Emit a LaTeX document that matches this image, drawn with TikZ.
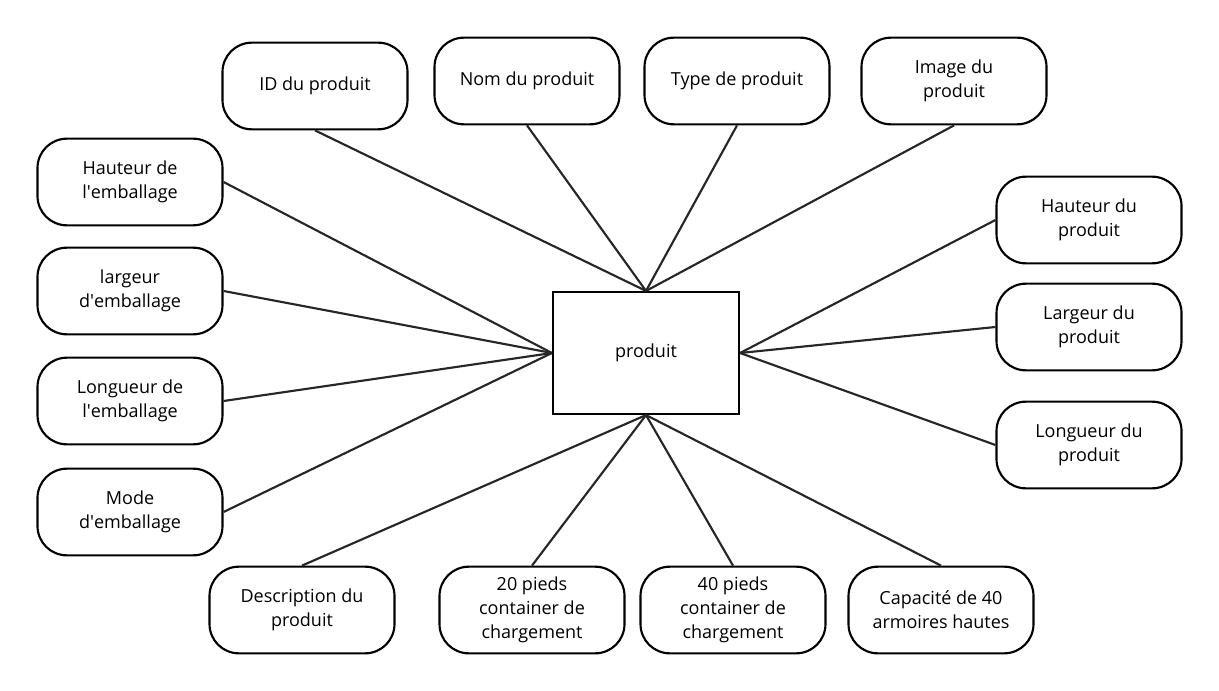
\documentclass[tikz,border=0pt]{standalone}
\usepackage{fontspec}
\setmainfont{Open Sans}
\begin{document}
\begin{tikzpicture}[x=0.75pt,y=0.75pt,yscale=-1,xscale=1,
	attr/.style={draw, line width=1.6pt, rounded corners=22pt, minimum width=138.75pt, minimum height=65pt, align=center, font=\fontsize{13.5}{18}\selectfont, inner sep=2pt},
	ent/.style={draw, line width=1.6pt, minimum width=139.5pt, minimum height=91.5pt, font=\fontsize{13.5}{18}\selectfont},
	link/.style={line width=1.6pt, draw=black!85}]
	\useasboundingbox (0,0) rectangle (1219,691);
	\node [ent] (prod) at (646,353) {produit};
	% top row
	\node [attr] (id) at (315,86) {ID du produit};
	\node [attr] (nom) at (527,81) {Nom du produit};
	\node [attr] (type) at (737,81) {Type de produit};
	\node [attr] (img) at (954,81) {Image du\\produit};
	% left column
	\node [attr] (hemb) at (130,182) {Hauteur de\\l\textquotesingle emballage};
	\node [attr] (lemb) at (130,291) {largeur\\d\textquotesingle emballage};
	\node [attr] (loemb) at (130,401) {Longueur de\\l\textquotesingle emballage};
	\node [attr] (memb) at (130,512) {Mode\\d\textquotesingle emballage};
	% right column
	\node [attr] (hprod) at (1089,220) {Hauteur du\\produit};
	\node [attr] (lprod) at (1089,327) {Largeur du\\produit};
	\node [attr] (loprod) at (1089,445) {Longueur du\\produit};
	% bottom row
	\node [attr] (desc) at (302,610) {Description du\\produit};
	\node [attr] (vingt) at (532,610) {20 pieds\\container de\\chargement};
	\node [attr] (quar) at (733,610) {40 pieds\\container de\\chargement};
	\node [attr] (cap) at (941,610) {Capacité de 40\\armoires hautes};
	% connectors
	\foreach \n in {id,nom,type,img}
		\draw [link] (\n.south) -- (prod.north);
	\foreach \n in {hemb,lemb,loemb,memb}
		\draw [link] (\n.east) -- (prod.west);
	\foreach \n in {hprod,lprod,loprod}
		\draw [link] (\n.west) -- (prod.east);
	\foreach \n in {desc,vingt,quar,cap}
		\draw [link] (\n.north) -- (prod.south);
\end{tikzpicture}
\end{document}
